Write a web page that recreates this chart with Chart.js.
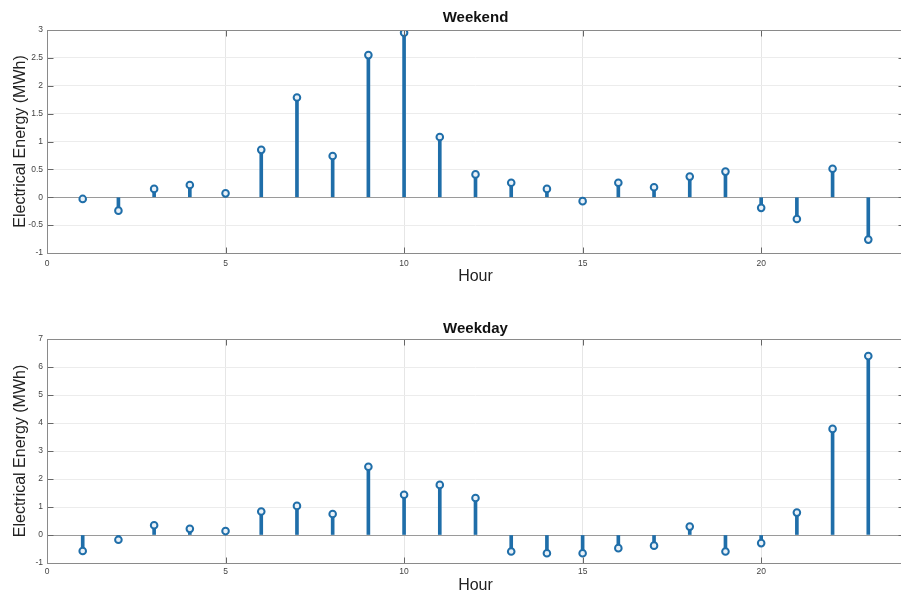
<!DOCTYPE html>
<html>
<head>
<meta charset="utf-8">
<script src="https://cdn.jsdelivr.net/npm/chart.js@4/dist/chart.umd.min.js"></script>
<style>
  html, body { margin: 0; padding: 0; background: #fff; overflow: hidden; }
  .box { position: absolute; left: 0; width: 910px; height: 297px; }
  #top { top: 0; }
  #bot { top: 297px; }
</style>
</head>
<body>
<div class="box" id="top"><canvas id="weekend"></canvas></div>
<div class="box" id="bot"><canvas id="weekday"></canvas></div>
<script>
// hours 1..23
var hours = [1,2,3,4,5,6,7,8,9,10,11,12,13,14,15,16,17,18,19,20,21,22,23];
var weekend = [-0.03,-0.24,0.15,0.22,0.07,0.85,1.79,0.74,2.55,2.95,1.08,0.41,0.26,0.15,-0.07,0.26,0.18,0.37,0.46,-0.19,-0.39,0.51,-0.76];
var weekday = [-0.57,-0.17,0.35,0.22,0.14,0.84,1.04,0.75,2.44,1.44,1.79,1.32,-0.59,-0.65,-0.65,-0.47,-0.38,0.30,-0.59,-0.29,0.80,3.79,6.39];
var xTicks = [0,5,10,15,20];

var stemColor = '#1f6ea9';
var fontFam = '"Liberation Sans", Arial, Helvetica, sans-serif';

// full box round the plot + inward tick marks, like matlab
var frame = {
  id: 'frame',
  afterDraw: function(chart) {
    var a = chart.chartArea, c = chart.ctx;
    var L = Math.round(a.left)+0.5, T = Math.round(a.top)+0.5;
    var R = Math.round(a.right)+0.5, B = Math.round(a.bottom)+0.5;
    c.save();
    c.strokeStyle = '#666';
    c.lineWidth = 1;
    c.beginPath();
    chart.scales.x.ticks.forEach(function(t){
      var px = Math.round(chart.scales.x.getPixelForValue(t.value))+0.5;
      c.moveTo(px, T); c.lineTo(px, T+6);
      c.moveTo(px, B); c.lineTo(px, B-6);
    });
    chart.scales.y.ticks.forEach(function(t){
      var py = Math.round(chart.scales.y.getPixelForValue(t.value))+0.5;
      c.moveTo(L, py); c.lineTo(L+6, py);
      c.moveTo(R, py); c.lineTo(R-6, py);
    });
    c.stroke();
    c.strokeStyle = '#8a8a8a';
    c.strokeRect(L, T, R-L, B-T);
    c.restore();
  }
};

function makeChart(id, title, vals, yMin, yMax, yStep, lay) {
  var pts = hours.map(function(h, i){ return {x: h, y: vals[i]}; });
  new Chart(document.getElementById(id), {
    type: 'bar',
    data: {
      datasets: [
        {
          type: 'scatter',
          data: pts,
          showLine: false,
          pointStyle: 'circle',
          pointRadius: 3.3,
          pointBorderWidth: 2,
          pointBorderColor: stemColor,
          pointBackgroundColor: '#e9f1f8',
          order: 0
        },
        {
          type: 'bar',
          data: pts,
          backgroundColor: stemColor,
          barThickness: 3,
          order: 1
        }
      ]
    },
    options: {
      responsive: true,
      maintainAspectRatio: false,
      animation: false,
      layout: { padding: { left: 0, right: 6, top: 0, bottom: 0 } },
      plugins: {
        legend: { display: false },
        tooltip: { enabled: false },
        title: {
          display: true,
          text: title,
          fullSize: false,
          color: '#111',
          font: { family: fontFam, size: 15, weight: 'bold', lineHeight: 1.2 },
          padding: { top: lay.titleTop, bottom: lay.titleBottom }
        }
      },
      scales: {
        x: {
          type: 'linear',
          min: 0, max: 24,
          offset: false,
          afterBuildTicks: function(s){ s.ticks = xTicks.map(function(v){ return {value: v}; }); },
          afterFit: function(s){ s.height = lay.xh; },
          ticks: { color: '#444', font: { family: fontFam, size: 8.5 }, padding: lay.tickPad, maxRotation: 0 },
          grid: { offset: false, color: '#e6e6e6', drawTicks: false },
          border: { display: false },
          title: {
            display: true, text: 'Hour', color: '#222',
            font: { family: fontFam, size: 16, lineHeight: 1 },
            padding: { top: 0, bottom: lay.hourPad }
          }
        },
        y: {
          min: yMin, max: yMax,
          ticks: {
            stepSize: yStep, color: '#444', font: { family: fontFam, size: 8.5 }, padding: 4,
            callback: function(v){ return String(Math.round(v*10)/10); }
          },
          afterFit: function(s){ s.width = 47; },
          grid: {
            drawTicks: false,
            color: function(c){ return c.tick && c.tick.value === 0 ? '#9a9a9a' : '#ececec'; }
          },
          border: { display: false },
          title: {
            display: true, text: 'Electrical Energy (MWh)', color: '#222',
            font: { family: fontFam, size: 16, lineHeight: 1.2 },
            padding: { top: 11, bottom: 0 }
          }
        }
      }
    },
    plugins: [frame]
  });
}

makeChart('weekend', 'Weekend', weekend, -1, 3, 0.5, { titleTop: 9, titleBottom: 3, xh: 44, tickPad: 6, hourPad: 12 });
makeChart('weekday', 'Weekday', weekday, -1, 7, 1, { titleTop: 23, titleBottom: 1, xh: 31, tickPad: 4, hourPad: 0 });
</script>
</body>
</html>
